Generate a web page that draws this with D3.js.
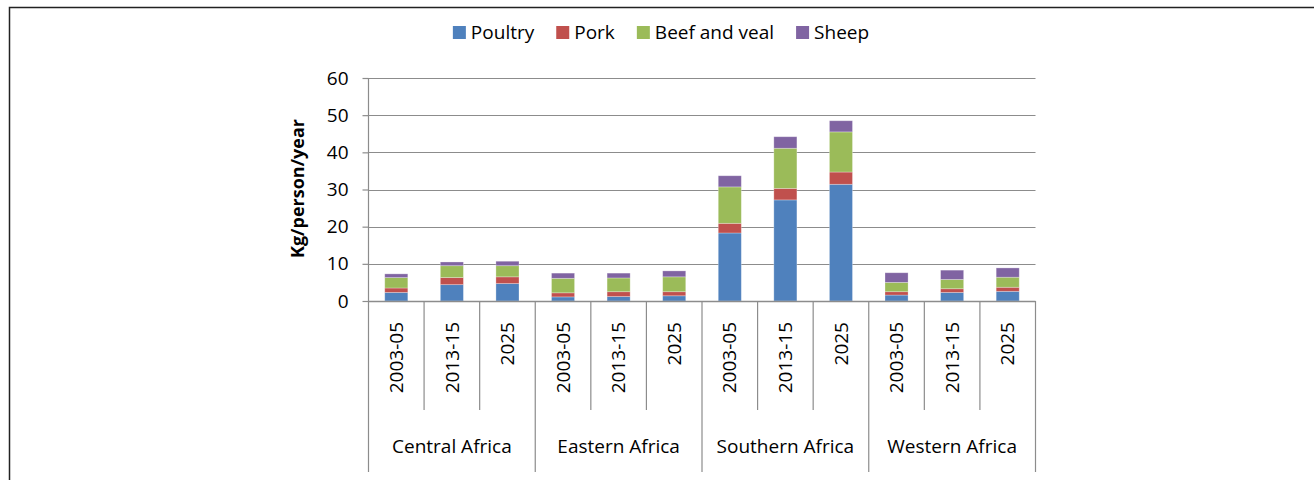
<!DOCTYPE html>
<html>
<head>
<meta charset="utf-8">
<script src="https://cdn.jsdelivr.net/npm/d3@7"></script>
<style>
  body { margin: 0; background: #fff; }
  svg { display: block; font-family: "Open Sans", "Noto Sans", sans-serif; }
</style>
</head>
<body>
<svg width="1314" height="480"></svg>
<script>
// data
var regions = ["Central Africa", "Eastern Africa", "Southern Africa", "Western Africa"];
var periods = ["2003-05", "2013-15", "2025"];
var seriesNames = ["Poultry", "Pork", "Beef and veal", "Sheep"];
var seriesColors = ["#4F81BD", "#C0504D", "#9BBB59", "#8064A2"];
var poultry = [2.3, 4.4, 4.7, 1.1, 1.2, 1.4, 18.3, 27.2, 31.4, 1.6, 2.3, 2.6];
var pork    = [1.2, 1.9, 1.8, 1.1, 1.3, 1.1, 2.6, 3.1, 3.3, 0.9, 1.0, 1.1];
var beef    = [2.8, 3.2, 3.0, 3.9, 3.7, 4.0, 9.8, 10.8, 10.8, 2.5, 2.5, 2.7];
var sheep   = [1.0, 1.0, 1.2, 1.4, 1.3, 1.6, 3.0, 3.1, 3.0, 2.6, 2.5, 2.5];
var yTicks = [0, 10, 20, 30, 40, 50, 60];

var svg = d3.select("svg");

// outer frame
svg.append("rect")
    .attr("x", 9.5).attr("y", 7.5)
    .attr("width", 1320).attr("height", 500)
    .attr("fill", "none")
    .attr("stroke", "#222")
    .attr("stroke-width", 1.5);

// build rows
var rows = [];
regions.forEach(function (r, i) {
    periods.forEach(function (p, j) {
        var k = i * periods.length + j;
        rows.push({
            key: r + "|" + p, region: r, period: p,
            "Poultry": poultry[k], "Pork": pork[k],
            "Beef and veal": beef[k], "Sheep": sheep[k]
        });
    });
});

var x0 = 368.5, x1 = 1035.5, yBottom = 301, yTop = 78;

var x = d3.scaleBand()
    .domain(rows.map(function (d) { return d.key; }))
    .range([x0, x1])
    .paddingInner(0.585)
    .paddingOuter(0.2925);

var y = d3.scaleLinear().domain([0, 60]).range([yBottom, yTop]);

var color = d3.scaleOrdinal().domain(seriesNames).range(seriesColors);

// gridlines
svg.append("g")
    .selectAll("line")
    .data(yTicks.filter(function (t) { return t > 0; }))
    .enter().append("line")
    .attr("x1", x0).attr("x2", x1)
    .attr("y1", function (d) { return Math.round(y(d)) + 0.5; })
    .attr("y2", function (d) { return Math.round(y(d)) + 0.5; })
    .attr("stroke", "#8c8c8c")
    .attr("stroke-width", 1.2);

// y axis
var yAxis = svg.append("g")
    .attr("transform", "translate(" + x0 + ",0)")
    .call(d3.axisLeft(y).tickValues(yTicks).tickSize(6).tickPadding(14));
yAxis.select(".domain").remove();
yAxis.selectAll(".tick line").attr("stroke", "#8c8c8c").attr("stroke-width", 1.2);
yAxis.selectAll("text")
    .attr("font-family", "Open Sans")
    .attr("font-size", 19)
    .attr("fill", "#000");

// stacked bars
var stack = d3.stack().keys(seriesNames);
var layers = stack(rows);

svg.append("g")
    .selectAll("g")
    .data(layers)
    .enter().append("g")
    .attr("fill", function (d) { return color(d.key); })
    .selectAll("rect")
    .data(function (d) { return d; })
    .enter().append("rect")
    .attr("x", function (d) { return x(d.data.key); })
    .attr("y", function (d) { return y(d[1]); })
    .attr("width", x.bandwidth())
    .attr("height", function (d) { return y(d[0]) - y(d[1]); })
    .attr("stroke", "rgba(255,255,255,0.35)")
    .attr("stroke-width", 0.8);

// axis lines
svg.append("line")
    .attr("x1", x0).attr("x2", x0)
    .attr("y1", yTop).attr("y2", 472)
    .attr("stroke", "#8c8c8c").attr("stroke-width", 1.2);
svg.append("line")
    .attr("x1", x0).attr("x2", x1)
    .attr("y1", yBottom + 0.5).attr("y2", yBottom + 0.5)
    .attr("stroke", "#8c8c8c").attr("stroke-width", 1.5);

// category separators
var step = x.step();
rows.forEach(function (d, i) {
    var xs = x0 + step * (i + 1);
    var isRegionEdge = (i + 1) % periods.length === 0;
    svg.append("line")
        .attr("x1", xs).attr("x2", xs)
        .attr("y1", yBottom).attr("y2", isRegionEdge ? 472 : 410)
        .attr("stroke", "#8c8c8c").attr("stroke-width", 1.2);
});

// period labels (rotated)
svg.append("g")
    .selectAll("text")
    .data(rows)
    .enter().append("text")
    .attr("transform", function (d) {
        return "translate(" + (x(d.key) + x.bandwidth() / 2) + ",322) rotate(-90)";
    })
    .attr("text-anchor", "end")
    .attr("dy", "0.35em")
    .attr("font-size", 19)
    .text(function (d) { return d.period; });

// region labels
svg.append("g")
    .selectAll("text")
    .data(regions)
    .enter().append("text")
    .attr("x", function (d, i) { return x0 + step * (i * 3 + 1.5); })
    .attr("y", 453)
    .attr("text-anchor", "middle")
    .attr("font-size", 19)
    .text(function (d) { return d; });

// y label
svg.append("text")
    .attr("transform", "translate(304,188.5) rotate(-90)")
    .attr("text-anchor", "middle")
    .attr("font-size", 18)
    .attr("font-weight", "bold")
    .text("Kg/person/year");

// legend
var legend = svg.append("g");
var lx = 0;
seriesNames.forEach(function (name) {
    var item = legend.append("g").attr("transform", "translate(" + lx + ",0)");
    item.append("rect")
        .attr("x", 0).attr("y", 26)
        .attr("width", 13).attr("height", 13)
        .attr("fill", color(name));
    var t = item.append("text")
        .attr("x", 18).attr("y", 39)
        .attr("font-size", 19)
        .text(name);
    lx += 18 + t.node().getComputedTextLength() + 22;
});
var legendWidth = lx - 22;
legend.attr("transform", "translate(" + (661 - legendWidth / 2) + ",0)");
</script>
</body>
</html>
